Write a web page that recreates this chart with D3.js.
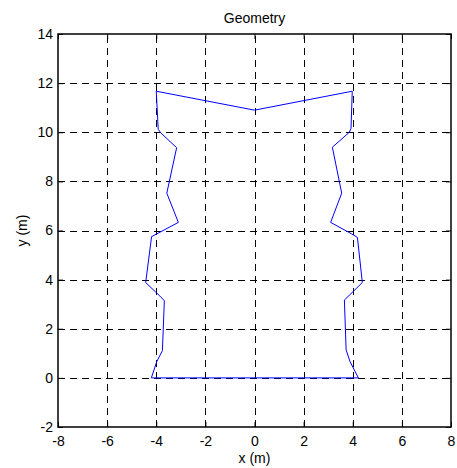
<!DOCTYPE html>
<html><head><meta charset="utf-8">
<script src="https://cdn.jsdelivr.net/npm/d3@7"></script>
<style>body{margin:0;background:#fff}svg{display:block}text{font-family:"Liberation Sans",Arial,sans-serif;fill:#000}</style>
</head><body>
<script>
const xs = [-4.2,-3.98,-3.75,-3.67,-3.85,-4.43,-4.19,-3.10,-3.57,-3.17,-3.82,-3.92,-4.0,0,3.98,3.93,3.86,3.17,3.55,3.10,3.96,4.19,4.39,3.66,3.73,3.89,4.23,-4.2];
const ys = [0,0.66,1.11,3.14,3.33,3.88,5.75,6.33,7.52,9.37,9.98,10.12,11.67,10.9,11.67,10.16,10.0,9.39,7.52,6.33,5.86,5.72,3.88,3.17,1.14,0.66,0,0];
const xTicks = [-8,-6,-4,-2,0,2,4,6,8];
const yTicks = [-2,0,2,4,6,8,10,12,14];
const title = "Geometry", xLabel = "x (m)", yLabel = "y (m)";

const W=457,H=468, L=58, R=451, T=34, B=427;
const svg=d3.select("body").append("svg").attr("width",W).attr("height",H);
const x=d3.scaleLinear().domain([-8,8]).range([L,R]);
const y=d3.scaleLinear().domain([-2,14]).range([B,T]);

const grid=svg.append("g").attr("stroke","#000").attr("stroke-width",1).attr("stroke-dasharray","7,5").attr("shape-rendering","crispEdges");
grid.selectAll(".gx").data(xTicks.slice(1,-1)).join("line").attr("x1",d=>Math.round(x(d))+0.5).attr("x2",d=>Math.round(x(d))+0.5).attr("y1",B).attr("y2",T);
grid.selectAll(".gy").data(yTicks.slice(1,-1)).join("line").attr("y1",d=>Math.round(y(d))+0.5).attr("y2",d=>Math.round(y(d))+0.5).attr("x1",L).attr("x2",R);

const pts=xs.map((v,i)=>[v,ys[i]]);
svg.append("path").datum(pts).attr("fill","none").attr("stroke","#0000ff").attr("stroke-width",1)
  .attr("d",d3.line().x(d=>x(d[0])).y(d=>y(d[1])));

const fmt=d=>String(d);
const ax=svg.append("g").attr("class","ax");
const gBottom=ax.append("g").attr("transform",`translate(0,${B})`).call(d3.axisBottom(x).tickValues(xTicks).tickSize(-5).tickPadding(9).tickFormat(fmt));
const gLeft=ax.append("g").attr("transform",`translate(${L},0)`).call(d3.axisLeft(y).tickValues(yTicks).tickSize(-5).tickPadding(5).tickFormat(fmt));
const gTop=ax.append("g").attr("transform",`translate(0,${T})`).call(d3.axisTop(x).tickValues(xTicks).tickSize(-5).tickFormat(""));
const gRight=ax.append("g").attr("transform",`translate(${R},0)`).call(d3.axisRight(y).tickValues(yTicks).tickSize(-5).tickFormat(""));
ax.selectAll(".domain").remove();
ax.selectAll("line").attr("stroke","#000");
ax.selectAll("text").style("font-size","14px").attr("fill","#000").style("font-family",'"Liberation Sans",Arial,sans-serif');
gBottom.selectAll("text").attr("dy","0.71em");
svg.append("rect").attr("x",L).attr("y",T).attr("width",R-L).attr("height",B-T).attr("fill","none").attr("stroke","#000").attr("stroke-width",1.5);

svg.append("text").attr("x",(L+R)/2).attr("y",23).attr("text-anchor","middle").style("font-size","14px").text(title);
svg.append("text").attr("x",(L+R)/2).attr("y",463).attr("text-anchor","middle").style("font-size","14px").text(xLabel);
svg.append("text").attr("transform",`translate(27,${(T+B)/2}) rotate(-90)`).attr("text-anchor","middle").style("font-size","14px").text(yLabel);
</script>
</body></html>
